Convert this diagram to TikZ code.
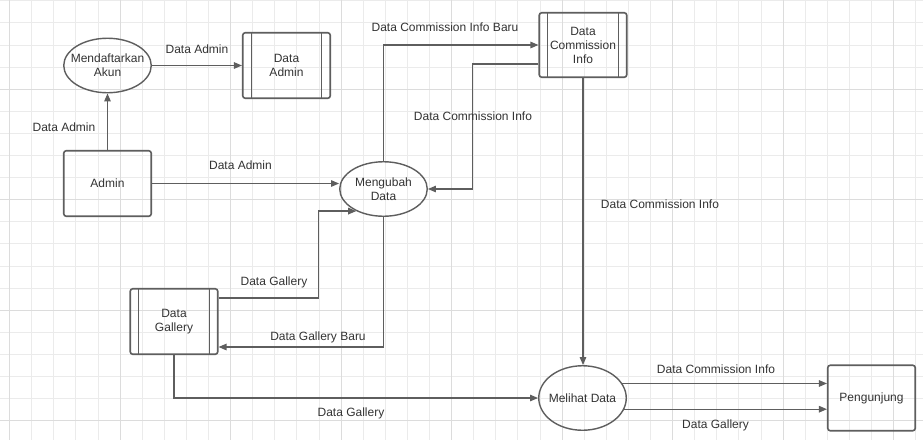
\documentclass[tikz,border=0pt]{standalone}
\usepackage{fontspec}
\setmainfont{Liberation Sans}
\usepackage{xcolor}
\usetikzlibrary{
arrows.meta,
positioning,
shapes
}

\definecolor{linegray}{HTML}{5E5E5E}
\definecolor{textgray}{HTML}{333333}
\definecolor{gridlight}{HTML}{EBEBEB}
\definecolor{griddark}{HTML}{DCDCDC}

\begin{document}
\begin{tikzpicture}[x=1pt,y=-1pt,
    font=\fontsize{12}{14}\selectfont, text=textgray,
    proc/.style={shape=ellipse, draw=linegray, line width=1.4pt, minimum width=87.5pt, minimum height=54.5pt, inner xsep=-10pt, inner ysep=0pt, align=center},
    ent/.style={shape=rectangle, draw=linegray, line width=1.6pt, rounded corners=2.5pt, minimum width=87.5pt, minimum height=65.5pt, align=center},
    store/.style={ent, path picture={
        \draw[draw=linegray, line width=1.4pt]
          ([xshift=8.5pt]path picture bounding box.north west) -- ([xshift=8.5pt]path picture bounding box.south west)
          ([xshift=-8.5pt]path picture bounding box.north east) -- ([xshift=-8.5pt]path picture bounding box.south east);}},
    flow/.style={draw=linegray, line width=1.2pt, -{Triangle[length=8pt,width=6.5pt]}},
    lbl/.style={inner sep=0pt},
    gridline/.style={draw=gridlight, line width=0.8pt},
    gridmajor/.style={draw=griddark, line width=0.9pt}]
    \useasboundingbox (0,0) rectangle (923,440);
    \fill[white] (0,0) rectangle (923,440);
    \foreach \i in {0,...,41} {\draw[gridline] (9.5+22.1*\i,0) -- (9.5+22.1*\i,440);}
    \foreach \j in {0,...,19} {\draw[gridline] (0,0.7+22.1*\j) -- (923,0.7+22.1*\j);}
    \foreach \i in {0,5,...,40} {\draw[gridmajor] (9.5+22.1*\i,0) -- (9.5+22.1*\i,440);}
    \foreach \j in {4,9,14,19} {\draw[gridmajor] (0,0.7+22.1*\j) -- (923,0.7+22.1*\j);}

    \node [ent] (admin) at (107.5,183.5) {Admin};
    \node [proc, above = 56.5pt of admin] (daftar) {Mendaftarkan\\Akun};
    \node [store, right = 90pt of daftar] (dataadmin) {Data\\Admin};
    \node [proc] (ubah) at (383.5,189) {Mengubah\\Data};
    \node [store, minimum height=64.5pt] (commission) at (583,45) {Data\\Commission\\Info};
    \node [store] (gallery) at (174,321.5) {Data\\Gallery};
    \node [proc, minimum height=64.5pt] (lihat) at (582.5,398) {Melihat Data};
    \node [ent, right = 200pt of lihat] (pengunjung) {Pengunjung};

    \draw[flow] (admin) -- (daftar);
    \draw[flow] (daftar) -- (dataadmin);
    \draw[flow] (admin.east) -- (admin.east -| ubah.west);
    \draw[flow] (ubah.north) |- (commission.west);
    \draw[flow] ([yshift=-19pt]commission.west) -- ++(-66,0) |- (ubah.east);
    \draw[flow] (commission.south) -- (commission.south |- lihat.north);
    \draw[flow] ([yshift=23.5pt]gallery.east) -- ++(100,0) |- (ubah.219);
    \draw[flow] (ubah.south) |- ([yshift=-25.5pt]gallery.east);
    \draw[flow] (gallery.south) |- (lihat.west);
    \draw[flow] (lihat.20) -- (lihat.20 -| pengunjung.west);
    \draw[flow] (lihat.-15) -- (lihat.-15 -| pengunjung.west);

    \node [lbl] (l1) at (64,127) {Data Admin};
    \node [lbl] (l2) at (197,49.5) {Data Admin};
    \node [lbl] (l3) at (240.5,165) {Data Admin};
    \node [lbl] (l4) at (445,27.5) {Data Commission Info Baru};
    \node [lbl] (l5) at (473,116) {Data Commission Info};
    \node [lbl] (l6) at (660,204.5) {Data Commission Info};
    \node [lbl] (l7) at (274,282) {Data Gallery};
    \node [lbl] (l8) at (318,337.5) {Data Gallery Baru};
    \node [lbl] (l9) at (351,413.5) {Data Gallery};
    \node [lbl] (l10) at (716,369.5) {Data Commission Info};
    \node [lbl] (l11) at (715.5,425) {Data Gallery};
  \end{tikzpicture}
\end{document}
